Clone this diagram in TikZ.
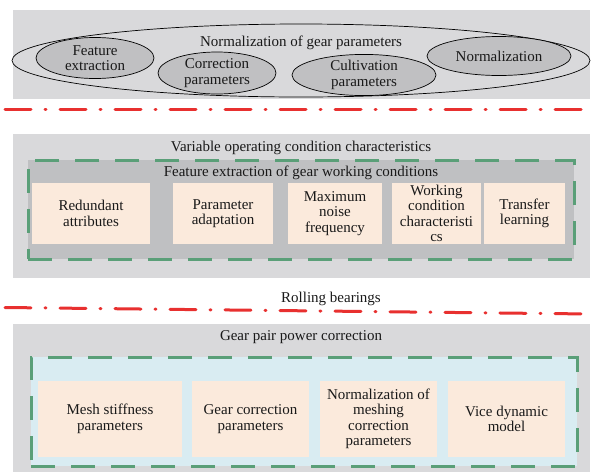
\documentclass[tikz,border=0pt]{standalone}
\usepackage{fontspec}
\setmainfont{Liberation Serif}
\usetikzlibrary{shapes.geometric}
\definecolor{panelgray}{HTML}{D9D9DB}
\definecolor{darkgray}{HTML}{BFC0C2}
\definecolor{ellgray}{HTML}{C0C0C2}
\definecolor{peach}{HTML}{FBEADC}
\definecolor{lightblue}{HTML}{D9ECF2}
\definecolor{dgreen}{HTML}{5A9F78}
\definecolor{dred}{HTML}{E8302F}
\tikzset{
  every node/.style={font=\fontsize{15}{15.5}\selectfont, text=black!90},
  panel/.style={rectangle, fill=panelgray, draw=none, inner sep=0pt},
  greenbox/.style={rectangle, draw=dgreen, line width=3pt, dash pattern=on 24pt off 16pt, inner sep=0pt},
  item/.style={rectangle, fill=peach, draw=none, inner sep=1pt, align=center},
  oval/.style={ellipse, draw=black, line width=0.7pt, fill=ellgray, inner sep=0pt, align=center},
  redline/.style={draw=dred, line width=3pt, line cap=round, dash pattern=on 26pt off 14pt on 1pt off 14pt},
}
\begin{document}
\begin{tikzpicture}[x=1pt,y=-1pt]
\useasboundingbox (0,0) rectangle (591,472);
% top panel
\node[panel, minimum width=577pt, minimum height=89pt] (p1) at (301.5,54.5) {};
\node[ellipse, draw=black, line width=0.7pt, inner sep=0pt, minimum width=578pt, minimum height=73pt] (big) at (301,60.5) {};
\node (t1) at (301,43) {Normalization of gear parameters};
\node[oval, minimum width=118pt, minimum height=41pt] (e1) at (95,58) {Feature\\extraction};
\node[oval, minimum width=118pt, minimum height=42pt] (e2) at (217,73) {Correction\\parameters};
\node[oval, minimum width=144pt, minimum height=40pt] (e3) at (364,75) {Cultivation\\parameters};
\node[oval, minimum width=144pt, minimum height=39pt] (e4) at (499,56) {Normalization};
% red line 1
\coordinate (r1a) at (5,109);
\coordinate (r1b) at (591,109);
\draw[redline] (r1a) -- (r1b);
% middle panel
\node[panel, minimum width=577pt, minimum height=144pt] (p2) at (301.5,206) {};
\node (t2) at (301,148) {Variable operating condition characteristics};
\node[greenbox, fill=darkgray, minimum width=546pt, minimum height=99pt] (g2) at (301,209.5) {};
\node (t3) at (301,173) {Feature extraction of gear working conditions};
\node[item, minimum width=118pt, minimum height=61pt] (a1) at (91,213.5) {Redundant\\attributes};
\node[item, minimum width=100pt, minimum height=61pt] (a2) at (223,213.5) {Parameter\\adaptation};
\node[item, minimum width=94pt, minimum height=61pt] (a3) at (335,213.5) {Maximum\\noise\\frequency};
\node[item, minimum width=89pt, minimum height=61pt] (a4) at (436.5,213.5) {Working\\condition\\characteristi\\cs};
\node[item, minimum width=81pt, minimum height=61pt] (a5) at (524.5,213.5) {Transfer\\learning};
% rolling bearings
\node (t4) at (331,299) {Rolling bearings};
\coordinate (r2a) at (5,307.5);
\coordinate (r2b) at (591,314);
\draw[redline] (r2a) -- (r2b);
% bottom panel
\node[panel, minimum width=577pt, minimum height=148pt] (p3) at (301.5,398) {};
\node (t5) at (301,337) {Gear pair power correction};
\node[greenbox, fill=lightblue, minimum width=546pt, minimum height=109pt] (g3) at (304,411.5) {};
\node[item, minimum width=144pt, minimum height=76pt] (b1) at (110,419) {Mesh stiffness\\parameters};
\node[item, minimum width=117pt, minimum height=76pt] (b2) at (250.5,419) {Gear correction\\parameters};
\node[item, minimum width=117pt, minimum height=76pt] (b3) at (378.5,419) {Normalization of\\meshing\\correction\\parameters};
\node[item, minimum width=117pt, minimum height=76pt] (b4) at (506.5,419) {Vice dynamic\\model};
\end{tikzpicture}
\end{document}
